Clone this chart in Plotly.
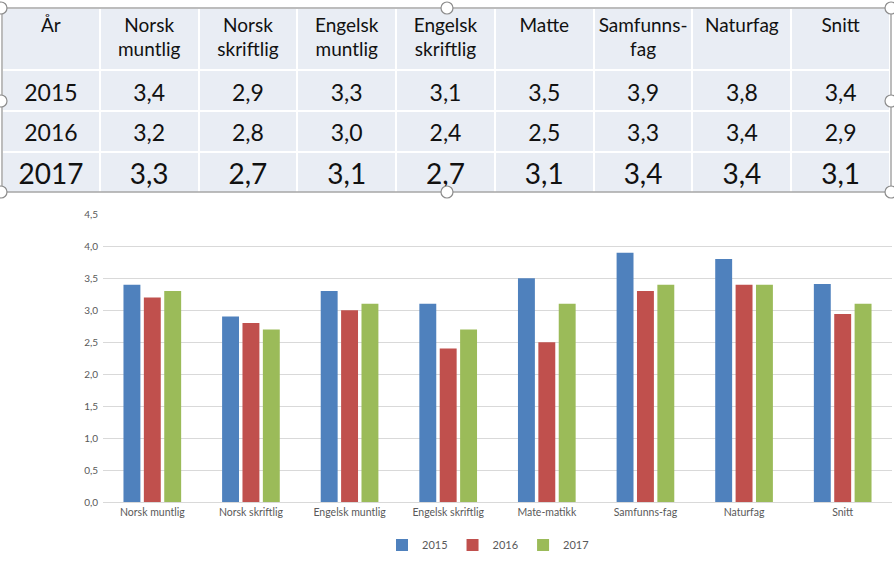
import plotly.graph_objects as go

# ---- data ----
categories = ["Norsk muntlig", "Norsk skriftlig", "Engelsk muntlig", "Engelsk skriftlig",
              "Mate-matikk", "Samfunns-fag", "Naturfag", "Snitt"]
years = ["2015", "2016", "2017"]
v2015 = [3.4, 2.9, 3.3, 3.1, 3.5, 3.9, 3.8, 3.41]
v2016 = [3.2, 2.8, 3.0, 2.4, 2.5, 3.3, 3.4, 2.94]
v2017 = [3.3, 2.7, 3.1, 2.7, 3.1, 3.4, 3.4, 3.1]

header_line1 = ["År", "Norsk", "Norsk", "Engelsk", "Engelsk", "Matte", "Samfunns-", "Naturfag", "Snitt"]
header_line2 = ["", "muntlig", "skriftlig", "muntlig", "skriftlig", "", "fag", "", ""]
table_2015 = ["3,4", "2,9", "3,3", "3,1", "3,5", "3,9", "3,8", "3,4"]
table_2016 = ["3,2", "2,8", "3,0", "2,4", "2,5", "3,3", "3,4", "2,9"]
table_2017 = ["3,3", "2,7", "3,1", "2,7", "3,1", "3,4", "3,4", "3,1"]

colors = ["#4f81bd", "#c0504d", "#9bbb59"]
W, H = 894, 567
FONT = "Lato"
TFILL = "#e9edf4"
CLEAR = "rgba(0,0,0,0)"
TXT = "#111111"

def py(px):
    return 1 - px / H

colwidths = [98] + [99] * 8
tx = [2 / W, 891 / W]
ncol = len(colwidths)
blank = [""] * ncol

row2015 = [years[0]] + table_2015
row2016 = [years[1]] + table_2016
row2017 = [years[2]] + table_2017

fig = go.Figure()

# background grid of the table (fills + white cell borders)
fig.add_trace(go.Table(
    domain=dict(x=tx, y=[py(198), py(8)]),
    columnwidth=colwidths,
    header=dict(values=blank, height=62, fill_color=TFILL, line_color="white", line_width=2),
    cells=dict(values=[["", "", ""] for _ in range(ncol)], height=41,
               fill_color=TFILL, line_color="white", line_width=2),
    hoverinfo="skip",
))
# header text (two lines, each centred)
fig.add_trace(go.Table(
    domain=dict(x=tx, y=[py(66), py(10)]),
    columnwidth=colwidths,
    header=dict(values=header_line1, height=24, align="center", fill_color=CLEAR,
                line_color=CLEAR, font=dict(family=FONT, size=19, color=TXT)),
    cells=dict(values=[[v] for v in header_line2], height=24, align="center",
               fill_color=CLEAR, line_color=CLEAR, font=dict(family=FONT, size=19, color=TXT)),
))
# 2015 / 2016 rows
fig.add_trace(go.Table(
    domain=dict(x=tx, y=[py(164), py(76)]),
    columnwidth=colwidths,
    header=dict(values=row2015, height=40, align="center", fill_color=CLEAR,
                line_color=CLEAR, font=dict(family=FONT, size=23, color=TXT)),
    cells=dict(values=[[v] for v in row2016], height=40, align="center",
               fill_color=CLEAR, line_color=CLEAR, font=dict(family=FONT, size=23, color=TXT)),
))
# 2017 row, larger font
fig.add_trace(go.Table(
    domain=dict(x=tx, y=[py(203), py(155)]),
    columnwidth=colwidths,
    header=dict(values=row2017, height=40, align="center", fill_color=CLEAR,
                line_color=CLEAR, font=dict(family=FONT, size=28, color=TXT)),
    cells=dict(values=[[""] for _ in range(ncol)], height=2, fill_color=CLEAR,
               line_color=CLEAR, line_width=0, font=dict(size=1)),
))

for name, vals, c in zip(years, [v2015, v2016, v2017], colors):
    fig.add_trace(go.Bar(x=categories, y=vals, name=name, marker_color=c,
                         marker_line_width=0))

fig.update_layout(
    width=W, height=H,
    margin=dict(l=0, r=0, t=0, b=0),
    paper_bgcolor="white", plot_bgcolor="white",
    separators=", ",
    barmode="group", bargap=0.38, bargroupgap=0.17,
    font=dict(family=FONT, color="#595959"),
    xaxis=dict(domain=[103 / W, 892 / W], showgrid=False, showline=True,
               linecolor="#d9d9d9", linewidth=1, tickfont=dict(size=10.5, color="#595959"),
               ticks="", automargin=False, fixedrange=True),
    yaxis=dict(domain=[py(502), py(214.3)], range=[0, 4.5], dtick=0.5, tickformat=".1f",
               showgrid=True, gridcolor="#d9d9d9", zeroline=False, ticks="",
               tickfont=dict(size=10, color="#595959"), automargin=False,
               ticklabelstandoff=4),
    legend=dict(orientation="h", x=488 / W, xanchor="center", y=py(545), yanchor="middle",
                font=dict(size=11, color="#595959"), itemwidth=30,
                traceorder="normal"),
    showlegend=True,
)

# selection handles around the table
handles = [(1, 8), (447, 8), (891, 8), (1, 101), (891, 101), (1, 192), (447, 192), (891, 192)]
shapes = [dict(type="rect", xref="paper", yref="paper", x0=2 / W, x1=891 / W,
               y0=py(192), y1=py(8), line=dict(color="#a6a6a6", width=1.5), layer="above")]
for hx, hy in handles:
    shapes.append(dict(type="circle", xref="paper", yref="paper",
                       xsizemode="pixel", ysizemode="pixel",
                       xanchor=hx / W, yanchor=py(hy), x0=-6, x1=6, y0=-6, y1=6,
                       line=dict(color="#8c8c8c", width=1.2), fillcolor="white", layer="above"))
fig.update_layout(shapes=shapes)

fig.write_html("out.html", config={"displayModeBar": False},
               post_script="document.body.style.margin='0';document.body.style.overflow='hidden';")
